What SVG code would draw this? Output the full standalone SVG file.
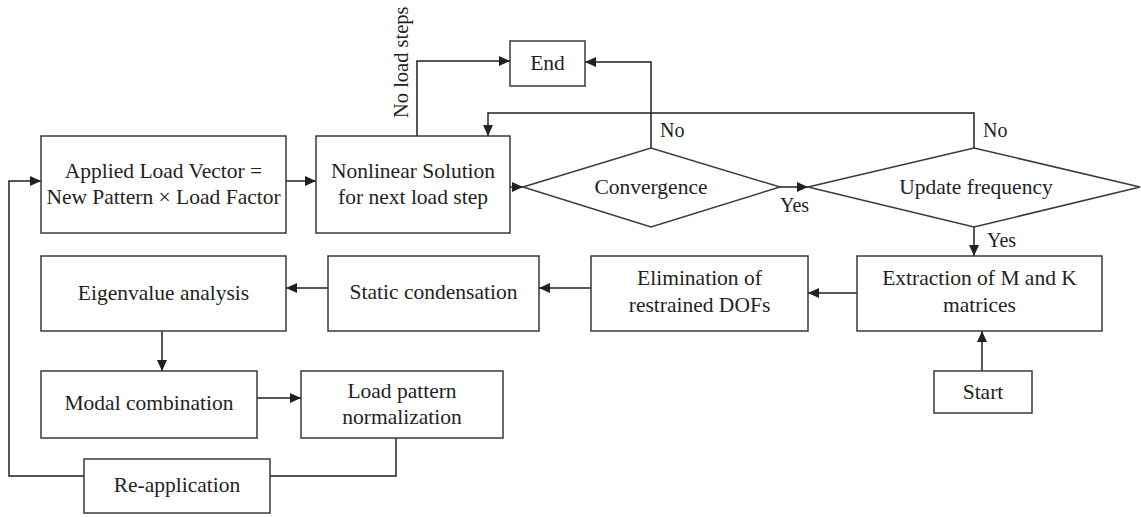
<svg xmlns="http://www.w3.org/2000/svg" width="1141" height="517" viewBox="0 0 1141 517">
<defs>
<marker id="ah" markerUnits="userSpaceOnUse" markerWidth="12" markerHeight="10" refX="11" refY="5" orient="auto">
<path d="M0,0 L11,5 L0,10 Z" fill="#231f20"/>
</marker>
<style>
.box{fill:#fff;stroke:#3a3a3a;stroke-width:1.5}
.ln{fill:none;stroke:#231f20;stroke-width:1.5}
.arr{fill:none;stroke:#231f20;stroke-width:1.5;marker-end:url(#ah)}
text{font-family:"Liberation Serif","Times New Roman",serif;font-size:21.5px;fill:#231f20}
.c{text-anchor:middle}
.lbl{font-size:20px}
.vl{font-size:20.5px}
</style>
</defs>
<rect width="1141" height="517" fill="#fff"/>
<g id="connectors">
<path class="arr" d="M286,181 H316"/>
<path class="arr" d="M510,187 H523"/>
<path class="arr" d="M417,136 V61 H510"/>
<path class="arr" d="M651,148 V62 H585"/>
<path class="arr" d="M974,148 V113 H488 V136"/>
<path class="arr" d="M780,187 H808"/>
<path class="arr" d="M974,227 V256"/>
<path class="arr" d="M857,293 H808"/>
<path class="arr" d="M591,288 H539"/>
<path class="arr" d="M328,288 H286"/>
<path class="arr" d="M162,331 V371"/>
<path class="arr" d="M257,398 H301"/>
<path class="ln" d="M396,438 V476 H270"/>
<path class="arr" d="M84,476 H9 V181 H41"/>
<path class="arr" d="M982,371 V331"/>
<text class="vl" transform="translate(408,118) rotate(-90)">No load steps</text>
<text class="lbl" x="660" y="137">No</text>
<text class="lbl" x="983" y="137">No</text>
<text class="lbl" x="780" y="212">Yes</text>
<text class="lbl" x="987" y="247">Yes</text>
</g>
<g id="applied"><rect class="box" x="41" y="136" width="245" height="97"/><text class="c" x="163.5" y="178">Applied Load Vector =</text><text class="c" x="163.5" y="204">New Pattern × Load Factor</text></g>
<g id="nonlinear"><rect class="box" x="316" y="136" width="194" height="97"/><text class="c" x="413" y="178">Nonlinear Solution</text><text class="c" x="413" y="204">for next load step</text></g>
<g id="end"><rect class="box" x="510" y="41" width="75" height="45"/><text class="c" x="547.5" y="70">End</text></g>
<g id="convergence"><polygon class="box" points="523,187 651,148 780,187 651,227"/><text class="c" x="651" y="194">Convergence</text></g>
<g id="update"><polygon class="box" points="808,187 974,148 1140,187 974,227"/><text class="c" x="976" y="194">Update frequency</text></g>
<g id="extraction"><rect class="box" x="857" y="256" width="245" height="75"/><text class="c" x="979.5" y="285">Extraction of M and K</text><text class="c" x="979.5" y="312">matrices</text></g>
<g id="elimination"><rect class="box" x="591" y="256" width="217" height="75"/><text class="c" x="699.5" y="285">Elimination of</text><text class="c" x="699.5" y="312">restrained DOFs</text></g>
<g id="static"><rect class="box" x="328" y="256" width="211" height="75"/><text class="c" x="433.5" y="299">Static condensation</text></g>
<g id="eigen"><rect class="box" x="41" y="256" width="245" height="75"/><text class="c" x="163.5" y="300">Eigenvalue analysis</text></g>
<g id="modal"><rect class="box" x="41" y="371" width="216" height="67"/><text class="c" x="149" y="410">Modal combination</text></g>
<g id="loadpattern"><rect class="box" x="301" y="371" width="202" height="67"/><text class="c" x="402" y="398">Load pattern</text><text class="c" x="402" y="424">normalization</text></g>
<g id="reapp"><rect class="box" x="84" y="459" width="186" height="54"/><text class="c" x="177" y="492">Re-application</text></g>
<g id="start"><rect class="box" x="934" y="371" width="98" height="42"/><text class="c" x="983" y="399">Start</text></g>
</svg>
